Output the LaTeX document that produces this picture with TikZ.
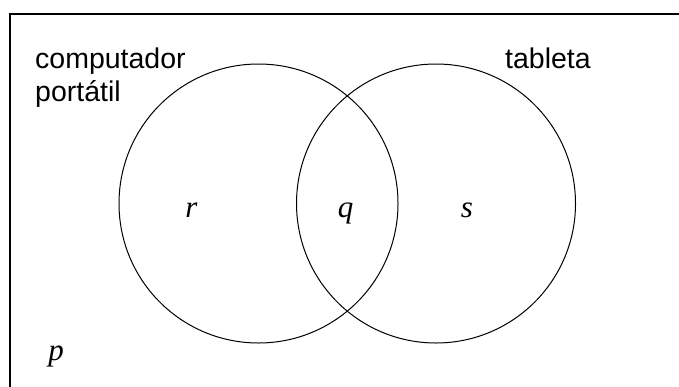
\documentclass[tikz,border=0pt]{standalone}
\usepackage{fontspec}
\setmainfont{Liberation Sans}
\newfontfamily\serfam{Liberation Serif}
\begin{document}
\begin{tikzpicture}[x=1pt,y=-1pt,
  set/.style={circle,draw,line width=1pt,minimum size=279pt,inner sep=0pt},
  lbl/.style={anchor=base west,inner sep=0pt,font=\fontsize{28.5}{34}\selectfont},
  elem/.style={anchor=base,inner sep=0pt,font=\serfam\itshape\fontsize{31}{36}\selectfont}]
\useasboundingbox (0,0) rectangle (679,386);
\draw[line width=1.3pt] (10,390) -- (10,14) -- (685,14);
\node[set] (L) at (258.5,203.5) {};
\node[set] (R) at (436,203.5) {};
\node[lbl] (c1) at (35,68) {computador};
\node[lbl] (c2) at (35,101) {portátil};
\node[lbl] (t) at (505,68) {tableta};
\node[elem] (r) at (191.5,217) {r};
\node[elem] (q) at (345.5,217) {q};
\node[elem] (s) at (467,217) {s};
\node[elem] (p) at (56,360) {p};
\end{tikzpicture}
\end{document}
